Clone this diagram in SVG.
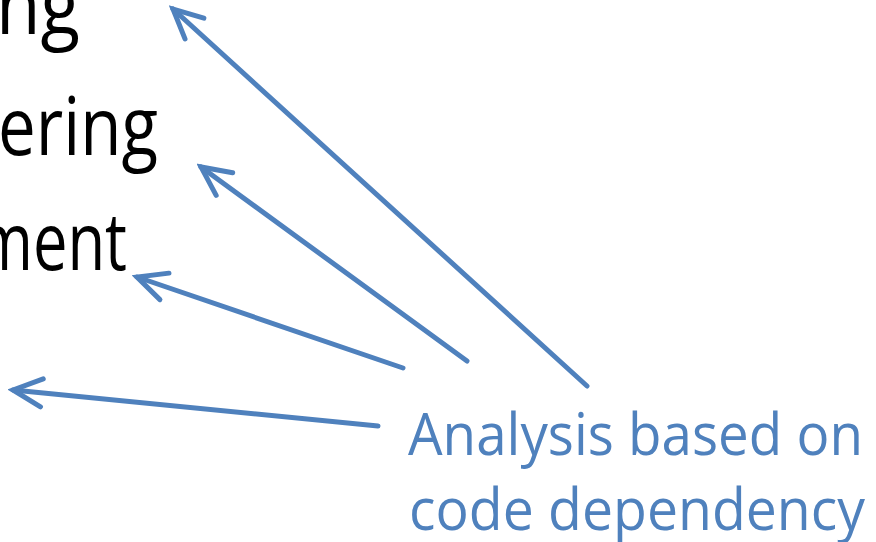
<svg xmlns="http://www.w3.org/2000/svg" width="876" height="542" viewBox="0 0 876 542">
<style>
.blk{font-family:"Open Sans","Noto Sans","Liberation Sans",sans-serif;font-size:80px;fill:#000}
.lbl{font-family:"Open Sans","Noto Sans","Liberation Sans",sans-serif;font-size:58px;fill:#4F81BD}
.con{stroke:#4F81BD;stroke-width:5;fill:none;stroke-linecap:round}
</style>
<defs>
<marker id="ah" viewBox="-35 -20 40 40" refX="0" refY="0" markerWidth="40" markerHeight="40" markerUnits="userSpaceOnUse" orient="auto">
<path d="M-29 -14 L0 0 L-29 14" fill="none" stroke="#4F81BD" stroke-width="5" stroke-linecap="round" stroke-linejoin="miter"/>
</marker>
</defs>
<g id="list">
<text class="blk" x="-4" y="34" textLength="84" lengthAdjust="spacingAndGlyphs">ng</text>
<text class="blk" x="-2" y="155" textLength="160" lengthAdjust="spacingAndGlyphs">ering</text>
<text class="blk" x="-24" y="270" textLength="151" lengthAdjust="spacingAndGlyphs">ment</text>
</g>
<g id="label">
<text class="lbl" x="408" y="455" textLength="455" lengthAdjust="spacingAndGlyphs">Analysis based on</text>
<text class="lbl" x="409" y="530" textLength="456" lengthAdjust="spacingAndGlyphs">code dependency</text>
</g>
<g id="connectors">
<line class="con" x1="587" y1="386" x2="173" y2="9" marker-end="url(#ah)"/>
<line class="con" x1="467" y1="361" x2="201" y2="167" marker-end="url(#ah)"/>
<line class="con" x1="403" y1="368" x2="137" y2="277" marker-end="url(#ah)"/>
<line class="con" x1="378" y1="426" x2="13" y2="390" marker-end="url(#ah)"/>
</g>
</svg>
